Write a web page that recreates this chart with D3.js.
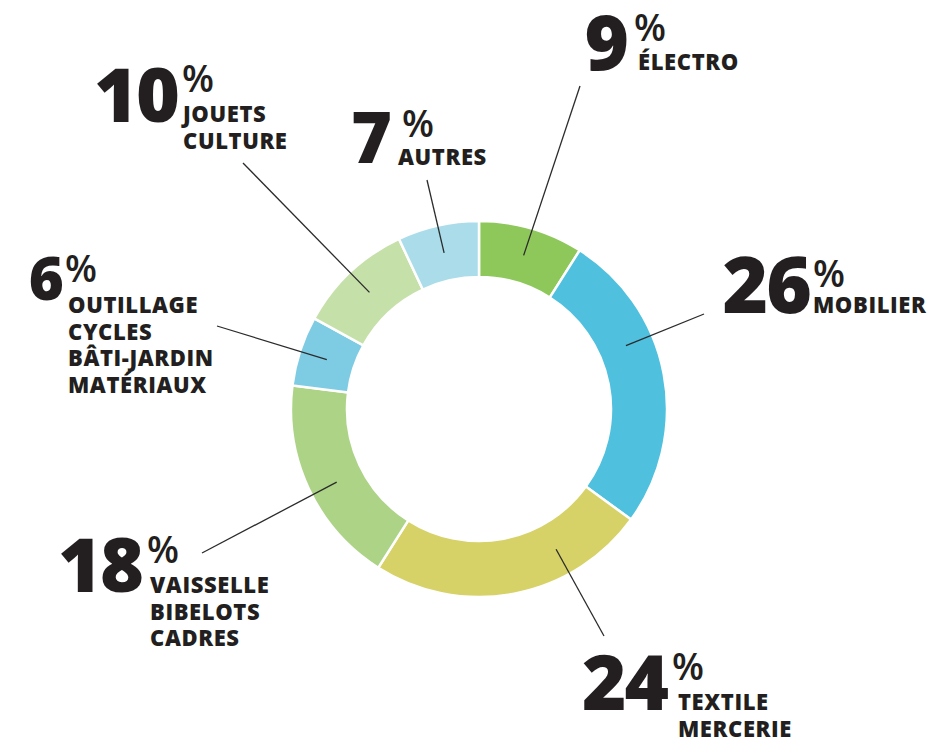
<!DOCTYPE html>
<html>
<head>
<meta charset="utf-8">
<script src="https://cdn.jsdelivr.net/npm/d3@7"></script>
<style>
  body { margin: 0; background: #fff; }
  svg { display: block; }
  .num { font-family: "Open Sans", sans-serif; font-weight: 800; fill: #231f20; }
  .pct { font-family: "Open Sans", sans-serif; font-weight: 600; fill: #231f20; }
  .lab { font-family: "Open Sans", sans-serif; font-weight: 800; fill: #231f20; }
</style>
</head>
<body>
<div id="chart"></div>
<script>
// share of each category (percent), clockwise from the top
var categories = [
  ["ÉLECTRO"],
  ["MOBILIER"],
  ["TEXTILE", "MERCERIE"],
  ["VAISSELLE", "BIBELOTS", "CADRES"],
  ["OUTILLAGE", "CYCLES", "BÂTI-JARDIN", "MATÉRIAUX"],
  ["JOUETS", "CULTURE"],
  ["AUTRES"]
];
var values = [9, 26, 24, 18, 6, 10, 7];
var colors = ["#8ec85b", "#4fc0dd", "#d6d267", "#add387", "#7ecbe4", "#c6e0aa", "#aadcea"];

// where each label sits (annotation layout only)
var labelLayout = [
  { off: 0,     end: [580, 86],  numX: 627, numY: 70,  size: 76, pctX: 634, pctY: 41,  labX: 638, labY: 70 },
  { off: -12.5, end: [704, 314], numX: 810, numY: 313, size: 78, pctX: 813, pctY: 287, labX: 813, labY: 313 },
  { off: -18,   end: [604, 636], numX: 667, numY: 710, size: 76, pctX: 672, pctY: 680, labX: 678, labY: 710 },
  { off: -2,    end: [202, 553], numX: 142, numY: 592, size: 75, pctX: 147, pctY: 563, labX: 150, labY: 593 },
  { off: 0,     end: [217, 326], numX: 62,  numY: 300, size: 60, pctX: 65,  pctY: 282, labX: 68,  labY: 313 },
  { off: 0,     end: [243, 163], numX: 178, numY: 122, size: 75, pctX: 182, pctY: 92,  labX: 183, labY: 122 },
  { off: 0,     end: [427, 180], numX: 390, numY: 163, size: 70, pctX: 402, pctY: 137, labX: 398, labY: 165 }
];

var w = 935, h = 742,
    cx = 479, cy = 409,
    rOut = 188, rIn = 132, rLead = 160;

var data = values.map(function(v, i) {
  return { name: categories[i], value: v, color: colors[i], lay: labelLayout[i] };
});

var svg = d3.select("#chart").append("svg")
  .attr("width", w)
  .attr("height", h);

var pie = d3.pie()
  .sort(null)
  .value(function(d) { return d.value; });

var arc = d3.arc()
  .innerRadius(rIn)
  .outerRadius(rOut);

var g = svg.append("g").attr("transform", "translate(" + cx + "," + cy + ")");

var slices = pie(data);

g.selectAll("path.slice")
  .data(slices)
  .enter()
  .append("path")
  .attr("class", "slice")
  .attr("d", arc)
  .style("fill", function(d) { return d.data.color; })
  .style("stroke", "#fff")
  .style("stroke-width", 2.5);

// leader lines: from the middle of the ring out to the label
svg.selectAll("line.leader")
  .data(slices)
  .enter()
  .append("line")
  .attr("class", "leader")
  .attr("x1", function(d) {
    var a = (d.startAngle + d.endAngle) / 2 + d.data.lay.off * Math.PI / 180;
    return cx + rLead * Math.sin(a);
  })
  .attr("y1", function(d) {
    var a = (d.startAngle + d.endAngle) / 2 + d.data.lay.off * Math.PI / 180;
    return cy - rLead * Math.cos(a);
  })
  .attr("x2", function(d) { return d.data.lay.end[0]; })
  .attr("y2", function(d) { return d.data.lay.end[1]; })
  .style("stroke", "#2b2b2b")
  .style("stroke-width", 1.3);

var labels = svg.selectAll("g.label")
  .data(data)
  .enter()
  .append("g")
  .attr("class", "label");

labels.append("text")
  .attr("class", "num")
  .attr("x", function(d) { return d.lay.numX; })
  .attr("y", function(d) { return d.lay.numY; })
  .attr("text-anchor", "end")
  .style("font-size", function(d) { return d.lay.size + "px"; })
  .style("letter-spacing", "-2px")
  .text(function(d) { return d.value; });

labels.append("text")
  .attr("class", "pct")
  .attr("x", function(d) { return d.lay.pctX; })
  .attr("y", function(d) { return d.lay.pctY; })
  .style("font-size", "37px")
  .text("%");

labels.each(function(d) {
  var t = d3.select(this).append("text")
    .attr("class", "lab")
    .style("font-size", "22px")
    .style("letter-spacing", "0.6px");
  t.selectAll("tspan")
    .data(d.name)
    .enter()
    .append("tspan")
    .attr("x", d.lay.labX)
    .attr("y", function(s, i) { return d.lay.labY + i * 26.5; })
    .text(function(s) { return s; });
});
</script>
</body>
</html>
